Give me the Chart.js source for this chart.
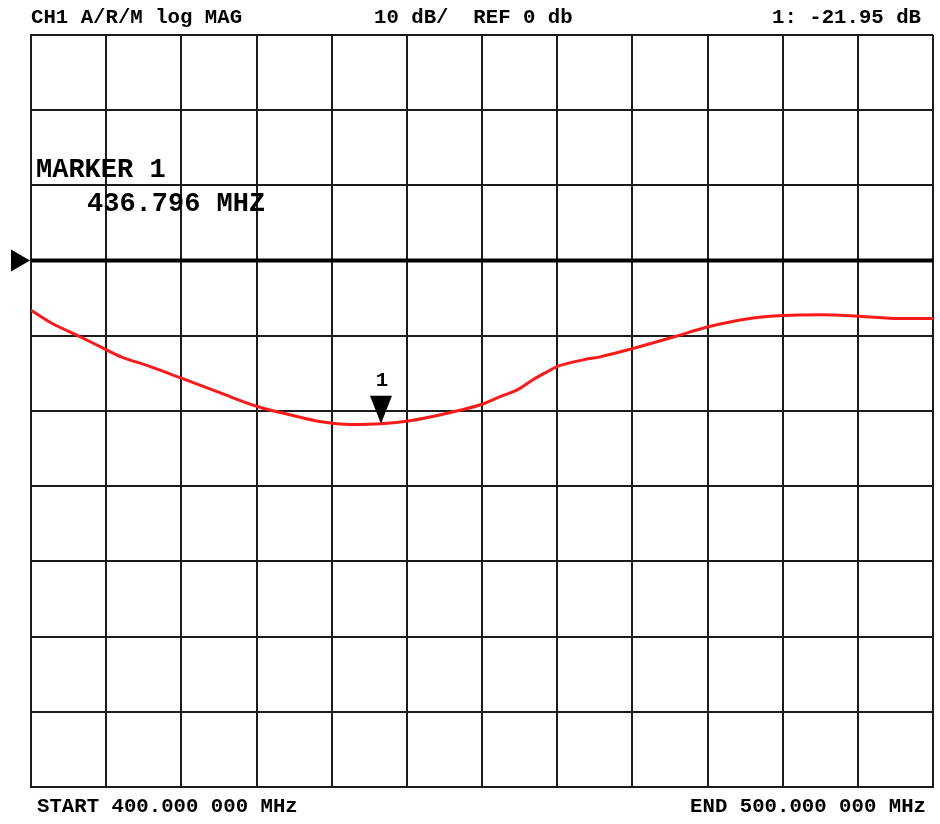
<!DOCTYPE html>
<html>
<head>
<meta charset="utf-8">
<script src="https://cdn.jsdelivr.net/npm/chart.js@4/dist/chart.umd.min.js"></script>
<style>
  html, body { margin: 0; padding: 0; background: #fff; }
  #wrap { width: 940px; height: 824px; }
</style>
</head>
<body>
<div id="wrap"><canvas id="vnaChart"></canvas></div>
<script>
// trace (MHz, dB)
const freqMHz = [400.0, 402.1, 405.4, 407.6, 410.0, 413.0, 416.6, 421.0, 425.1, 428.7,
                 432.0, 435.4, 438.8, 442.0, 446.5, 450.0, 452.0, 453.9, 455.7, 457.2,
                 458.3, 461.2, 463.1, 466.7, 471.4, 475.1, 479.7, 483.4, 487.5, 491.8,
                 496.3, 500.0];
const magDB   = [-6.6, -8.2, -10.1, -11.4, -12.8, -14.0, -15.6, -17.6, -19.4, -20.5,
                 -21.4, -21.8, -21.7, -21.3, -20.2, -19.1, -18.1, -17.2, -15.8, -14.8,
                 -14.1, -13.2, -12.8, -11.7, -10.1, -8.8, -7.7, -7.3, -7.2, -7.4,
                 -7.7, -7.7];

// 12 horizontal divisions, 10 dB/div vertical with ref 0 dB
const xTicks = [400, 408.333, 416.667, 425, 433.333, 441.667, 450,
                458.333, 466.667, 475, 483.333, 491.667, 500];
const yTicks = [-70, -60, -50, -40, -30, -20, -10, 0, 10, 20, 30];

const refLevel = 0;
const marker = { freq: 438.8, db: -21.7, label: '1' };

const headerLeft = 'CH1 A/R/M log MAG';
const headerMid = '10 dB/  REF 0 db';
const headerRight = '1: -21.95 dB';
const markerTitle = 'MARKER 1';
const markerFreq = '436.796 MHZ';
const footLeft = 'START 400.000 000 MHz';
const footRight = 'END 500.000 000 MHz';

const FONT = 'bold 20.7px "Liberation Mono", "DejaVu Sans Mono", monospace';
const BIG_FONT = 'bold 27px "Liberation Mono", "DejaVu Sans Mono", monospace';

const screenOverlay = {
  id: 'screenOverlay',
  afterDatasetsDraw(chart) {
    const { ctx, chartArea: a, scales: { x, y } } = chart;
    ctx.save();

    // reference line + arrow at the left edge
    const yRef = y.getPixelForValue(refLevel);
    ctx.strokeStyle = '#000';
    ctx.lineWidth = 4;
    ctx.beginPath();
    ctx.moveTo(a.left, yRef);
    ctx.lineTo(a.right, yRef);
    ctx.stroke();
    ctx.fillStyle = '#000';
    ctx.beginPath();
    ctx.moveTo(11, yRef - 11);
    ctx.lineTo(30, yRef);
    ctx.lineTo(11, yRef + 11);
    ctx.closePath();
    ctx.fill();

    // marker triangle
    const mx = x.getPixelForValue(marker.freq);
    const my = y.getPixelForValue(marker.db);
    ctx.beginPath();
    ctx.moveTo(mx, my);
    ctx.lineTo(mx - 11, my - 28);
    ctx.lineTo(mx + 11, my - 28);
    ctx.closePath();
    ctx.fill();

    ctx.font = FONT;
    ctx.textBaseline = 'alphabetic';
    ctx.textAlign = 'center';
    ctx.fillText(marker.label, mx + 1, my - 38);

    ctx.textAlign = 'left';
    ctx.fillText(headerLeft, 31, 23);
    ctx.fillText(headerMid, 374, 23);
    ctx.fillText(footLeft, 37, 812);
    ctx.textAlign = 'right';
    ctx.fillText(headerRight, 921, 23);
    ctx.fillText(footRight, 926, 812);

    ctx.font = BIG_FONT;
    ctx.textAlign = 'left';
    ctx.fillText(markerTitle, 36, 177);
    ctx.fillText(markerFreq, 87, 211);
    ctx.restore();
  }
};

const gridStyle = { color: '#1c1c1c', lineWidth: 2, drawTicks: false };

new Chart(document.getElementById('vnaChart'), {
  type: 'line',
  data: {
    datasets: [{
      data: freqMHz.map((f, i) => ({ x: f, y: magDB[i] })),
      borderColor: '#ff1a1a',
      borderWidth: 3,
      pointRadius: 0,
      cubicInterpolationMode: 'monotone',
      fill: false
    }]
  },
  options: {
    responsive: true,
    maintainAspectRatio: false,
    animation: false,
    layout: { padding: { left: 31, right: 7, top: 35, bottom: 37 } },
    plugins: { legend: { display: false }, tooltip: { enabled: false } },
    scales: {
      x: {
        type: 'linear', min: 400, max: 500,
        afterBuildTicks: s => { s.ticks = xTicks.map(v => ({ value: v })); },
        ticks: { display: false },
        grid: gridStyle,
        border: { color: '#1c1c1c', width: 2 }
      },
      y: {
        type: 'linear', min: -70, max: 30,
        afterBuildTicks: s => { s.ticks = yTicks.map(v => ({ value: v })); },
        ticks: { display: false },
        grid: gridStyle,
        border: { color: '#1c1c1c', width: 2 }
      }
    }
  },
  plugins: [screenOverlay]
});
</script>
</body>
</html>
